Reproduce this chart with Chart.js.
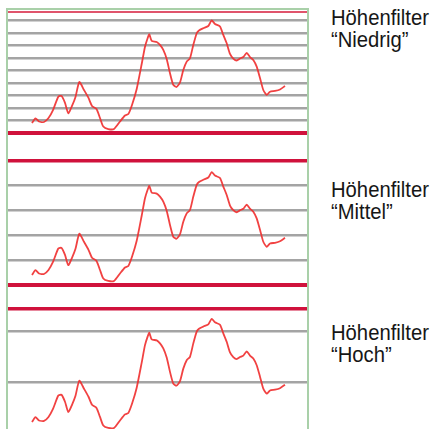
<!DOCTYPE html>
<html><head><meta charset="utf-8">
<script src="https://cdn.jsdelivr.net/npm/chart.js@4"></script>
<style>
html,body{margin:0;padding:0;background:#fff;overflow:hidden;width:433px;height:429px}
canvas{position:absolute;left:7px}
.frame{position:absolute;left:6px;top:8px;width:303px;height:440px;border:2px solid #a9d0a9;border-bottom:none;box-sizing:border-box;pointer-events:none;z-index:2}
.lbl{position:absolute;left:331px;font-family:"Liberation Sans",Arial,sans-serif;font-size:22px;line-height:22px;color:#161616;white-space:nowrap;transform:scaleX(0.92);transform-origin:0 0}
</style></head><body>
<div class="frame"></div>
<canvas id="c0" width="301" height="129" style="top:8px"></canvas>
<canvas id="c1" width="301" height="132" style="top:157px"></canvas>
<canvas id="c2" width="301" height="131" style="top:305px"></canvas>
<div class="lbl" id="l0" style="top:7px"></div>
<div class="lbl" id="l1" style="top:179px"></div>
<div class="lbl" id="l2" style="top:322px"></div>
<script>
const distance = [25,28.5,32,37,41.5,46,51.3,54.5,58,61.3,65,68.5,72.3,77,81.5,85,89.5,93,96.3,101.3,107,113,118,121.3,125,129.7,134.7,138,140.7,142.3,144.7,149.7,153,156.3,159.7,163,166.3,169.5,173,176.3,179.7,183,186.3,189.7,192,196.3,201.3,204.7,208,213,216.3,219.7,223,226.3,229.7,233,236.3,239.7,243,246.3,249.7,253,256.3,259.7,263,268,273,278];
const elevation = [8.0,11.8,9.2,8.8,12.0,18.4,29.1,29.7,24.1,15.8,21.7,28.9,40.9,34.5,28.1,21.7,19.2,12.0,5.2,3.2,3.2,9.2,14.0,15.2,22.5,35.3,55.3,69.2,76.2,79.1,73.8,73.0,70.6,66.6,59.3,47.9,38.5,36.9,40.5,50.5,57.2,59.9,70.6,80.0,82.2,84.0,85.8,90.2,87.4,85.4,78.6,71.9,63.4,59.7,58.1,59.7,60.9,64.2,60.9,58.5,53.2,44.1,34.5,30.5,33.1,33.7,34.9,37.7];
const filterLabel = 'Höhenfilter';
const panelNames = ['“Niedrig”', '“Mittel”', '“Hoch”'];
const gridTicks = [[0,10,20,30,40,50,60,70,80,90],[0,20,40,60,80],[0,40,80]];
const yMax = [97, 99, 98];
const xMax = 301;

const points = distance.map((d, i) => ({x: d, y: elevation[i]}));

panelNames.forEach((name, p) => {
  document.getElementById('l' + p).innerHTML = filterLabel + '<br>' + name;
  const top = yMax[p];
  const tickVals = gridTicks[p].concat([top]);
  new Chart(document.getElementById('c' + p), {
    type: 'line',
    data: {datasets: [{
      data: points,
      borderColor: 'rgba(240,45,45,0.9)',
      borderWidth: 1.8,
      pointRadius: 0,
      tension: 0.2,
      fill: false
    }]},
    options: {
      responsive: false,
      animation: false,
      events: [],
      layout: {padding: {top: 4, bottom: 4, left: 0, right: 0}},
      plugins: {legend: {display: false}, tooltip: {enabled: false}},
      scales: {
        x: {type: 'linear', min: 0, max: xMax, display: false},
        y: {
          min: 0, max: top,
          afterBuildTicks: (axis) => { axis.ticks = tickVals.map(v => ({value: v})); },
          ticks: {display: false},
          border: {display: false},
          grid: {
            drawTicks: false,
            color: (ctx) => {
              const v = ctx.tick && ctx.tick.value;
              if (v === 0) return '#d0123c';
              if (v === top) return p === 0 ? '#e0546c' : '#d0123c';
              return '#a4a4a4';
            },
            lineWidth: (ctx) => {
              const v = ctx.tick && ctx.tick.value;
              if (v === 0) return 4;
              if (v === top) return p === 0 ? 2 : 3.5;
              return 2.5;
            }
          }
        }
      }
    }
  });
});
</script>
</body></html>
